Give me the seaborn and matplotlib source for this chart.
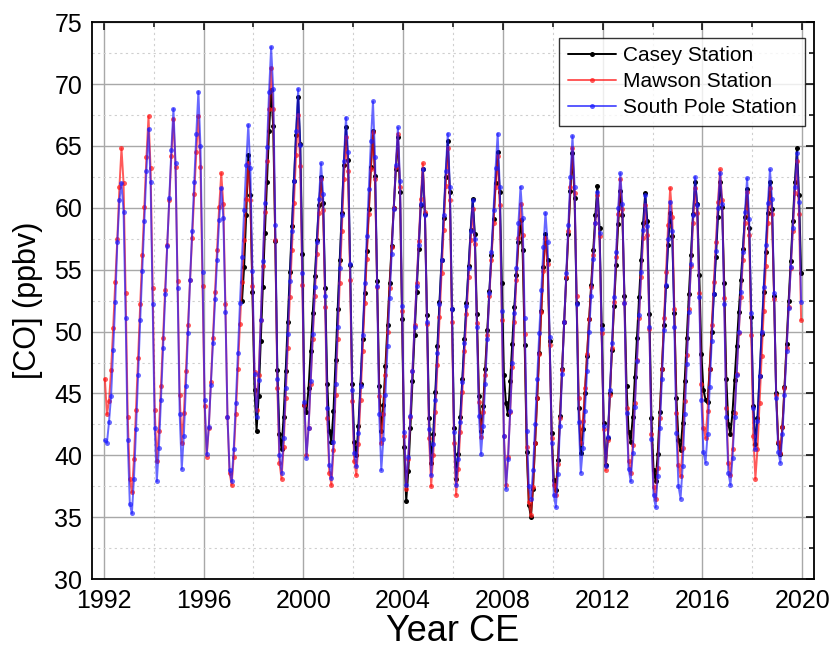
import numpy as np
import pandas as pd
import matplotlib
matplotlib.use("Agg")
import matplotlib.pyplot as plt
from matplotlib.ticker import MultipleLocator
import seaborn as sns

# monthly means, Jan 1992 .. Dec 2019 (one row per year)
years = list(range(1992, 2020))

south_pole = [
    41.2, 41.0, 42.7, 44.8, 48.5, 52.4, 57.2, 60.6, 62.0, 59.7, 51.1, 41.2,  # 1992
    36.1, 35.3, 38.1, 42.1, 46.5, 50.9, 54.9, 58.9, 63.0, 66.4, 62.1, 52.2,
    42.2, 37.9, 40.6, 44.5, 48.7, 53.0, 56.9, 60.8, 64.7, 68.0, 63.6, 53.5,
    43.3, 38.9, 41.6, 45.6, 49.9, 54.2, 58.1, 62.1, 66.0, 69.4, 65.0, 54.8,
    44.5, 40.1, 42.3, 45.7, 49.1, 52.6, 55.8, 59.0, 61.6, 59.2, 51.6, 43.1,  # 1996
    38.8, 37.9, 40.5, 44.2, 48.3, 52.3, 56.0, 59.8, 63.5, 66.7, 63.2, 54.9,
    46.6, 43.1, 46.1, 50.9, 55.7, 60.4, 64.9, 69.4, 73.0, 69.6, 58.6, 46.2,
    40.0, 38.6, 41.4, 45.4, 49.8, 54.1, 58.1, 62.2, 66.2, 69.6, 65.1, 54.7,
    44.3, 39.8, 42.2, 46.0, 49.8, 53.6, 57.2, 60.7, 63.6, 61.1, 52.9, 43.8,  # 2000
    39.2, 38.2, 41.1, 45.8, 50.4, 55.1, 59.4, 63.8, 67.3, 64.5, 55.5, 45.3,
    40.2, 39.1, 41.8, 45.6, 49.7, 53.9, 57.7, 61.5, 65.4, 68.6, 64.1, 53.7,
    43.3, 38.8, 41.3, 44.9, 48.8, 52.7, 56.3, 59.9, 63.5, 66.5, 62.2, 52.1,
    41.9, 37.6, 39.9, 43.2, 46.8, 50.4, 53.7, 57.0, 60.3, 63.1, 59.4, 50.8,  # 2004
    42.1, 38.4, 40.9, 44.5, 48.3, 52.2, 55.8, 59.4, 63.0, 66.0, 61.7, 51.8,
    41.9, 37.6, 39.7, 42.7, 45.9, 49.1, 52.1, 55.1, 58.1, 60.6, 57.5, 50.4,
    43.2, 40.1, 42.4, 45.8, 49.4, 53.1, 56.4, 59.8, 63.2, 66.0, 61.7, 51.7,
    41.6, 37.3, 39.7, 43.6, 47.5, 51.5, 55.1, 58.8, 61.7, 59.2, 51.1, 42.0,  # 2008
    37.5, 36.5, 38.8, 42.5, 46.2, 49.9, 53.4, 56.8, 59.6, 57.2, 49.6, 41.0,
    36.8, 35.8, 38.5, 42.4, 46.6, 50.8, 54.7, 58.6, 62.5, 65.8, 61.7, 52.2,
    42.7, 38.6, 40.6, 43.6, 46.8, 50.0, 52.9, 55.9, 58.8, 61.3, 58.0, 50.2,
    42.4, 39.1, 41.5, 45.3, 49.1, 52.8, 56.4, 60.0, 62.8, 60.3, 52.3, 43.4,  # 2012
    38.9, 37.9, 40.2, 43.9, 47.6, 51.3, 54.8, 58.2, 61.0, 58.5, 50.4, 41.3,
    36.8, 35.8, 38.3, 42.2, 46.2, 50.1, 53.8, 57.5, 60.5, 58.1, 50.4, 41.8,
    37.5, 36.5, 39.1, 43.3, 47.4, 51.6, 55.5, 59.4, 62.5, 60.2, 52.8, 44.5,
    40.3, 39.4, 41.7, 45.5, 49.2, 53.0, 56.5, 60.0, 62.8, 60.3, 52.2, 43.1,  # 2016
    38.6, 37.6, 39.8, 43.1, 46.5, 50.0, 53.2, 56.4, 59.7, 62.4, 59.1, 51.5,
    43.8, 40.5, 42.8, 46.4, 50.0, 53.6, 57.0, 60.4, 63.1, 60.7, 53.1, 44.6,
    40.3, 39.4, 41.7, 44.9, 48.4, 51.9, 55.2, 58.4, 61.7, 64.4, 60.5, 52.4,
]

mawson = [
    46.2, 43.3, 44.4, 46.9, 50.3, 54.0, 57.5, 61.7, 64.8, 62.0, 53.1, 43.1,  # 1992
    38.1, 37.0, 39.7, 43.7, 47.9, 52.2, 56.2, 60.1, 64.1, 67.4, 63.2, 53.5,
    43.7, 39.5, 42.0, 45.6, 49.5, 53.4, 57.0, 60.6, 64.2, 67.2, 63.3, 54.1,
    44.9, 41.0, 43.4, 46.8, 50.5, 54.2, 57.6, 61.1, 64.5, 67.4, 63.3, 53.7,
    44.0, 39.9, 42.2, 45.9, 49.5, 53.2, 56.6, 60.1, 62.8, 60.3, 52.2, 43.1,  # 1996
    38.6, 37.6, 39.9, 43.3, 47.0, 50.6, 54.0, 57.4, 60.7, 63.6, 60.6, 53.7,
    46.7, 43.7, 46.5, 50.9, 55.3, 59.7, 63.8, 68.0, 71.3, 68.0, 57.4, 45.4,
    39.4, 38.1, 40.7, 44.6, 48.7, 52.8, 56.6, 60.4, 64.3, 67.5, 63.4, 53.8,
    44.1, 40.0, 42.2, 45.8, 49.4, 52.9, 56.3, 59.6, 62.3, 59.8, 52.0, 43.0,  # 2000
    38.6, 37.6, 40.4, 44.9, 49.4, 53.9, 58.1, 62.3, 65.7, 63.0, 54.2, 44.4,
    39.5, 38.4, 40.9, 44.5, 48.4, 52.3, 55.9, 59.5, 63.1, 66.1, 62.3, 53.6,
    44.8, 41.0, 43.3, 46.5, 50.0, 53.5, 56.8, 60.0, 63.3, 66.0, 61.7, 51.7,
    41.6, 37.3, 39.7, 43.1, 46.8, 50.5, 53.9, 57.3, 60.7, 63.6, 59.7, 50.6,  # 2004
    41.4, 37.5, 40.0, 43.5, 47.3, 51.2, 54.7, 58.2, 61.8, 64.8, 60.6, 50.8,
    41.0, 36.8, 38.9, 41.9, 45.1, 48.4, 51.4, 54.4, 57.4, 59.9, 57.1, 50.7,
    44.3, 41.5, 43.5, 46.5, 49.7, 52.9, 55.8, 58.8, 61.7, 64.2, 60.2, 50.9,
    41.6, 37.6, 39.9, 43.5, 47.1, 50.8, 54.2, 57.6, 60.3, 57.8, 49.8, 40.7,  # 2008
    36.2, 35.2, 37.4, 41.0, 44.6, 48.2, 51.6, 54.9, 57.6, 55.5, 48.9, 41.4,
    37.6, 36.8, 39.3, 43.0, 46.9, 50.8, 54.4, 58.1, 61.7, 64.8, 61.2, 52.9,
    44.6, 41.0, 42.8, 45.4, 48.2, 51.0, 53.6, 56.2, 58.8, 61.0, 57.7, 49.9,
    42.1, 38.8, 41.2, 44.9, 48.7, 52.4, 56.0, 59.5, 62.3, 59.9, 52.3, 43.8,  # 2012
    39.5, 38.6, 40.8, 44.2, 47.7, 51.1, 54.4, 57.6, 60.2, 57.8, 50.2, 41.7,
    37.4, 36.5, 39.0, 43.0, 47.0, 51.1, 54.8, 58.6, 61.6, 59.3, 51.8, 43.4,
    39.2, 38.3, 40.6, 44.4, 48.1, 51.8, 55.3, 58.8, 61.6, 59.6, 53.1, 45.8,
    42.2, 41.4, 43.6, 47.0, 50.5, 54.0, 57.2, 60.5, 63.1, 60.6, 52.7, 43.8,  # 2016
    39.4, 38.4, 40.5, 43.4, 46.6, 49.9, 52.8, 55.8, 58.8, 61.3, 57.8, 49.7,
    41.6, 38.1, 40.5, 44.2, 48.0, 51.7, 55.3, 58.8, 61.6, 59.5, 52.6, 44.9,
    41.1, 40.2, 42.3, 45.4, 48.7, 52.0, 55.1, 58.1, 61.2, 63.8, 59.5, 50.9,
]

# Casey record begins July 1997
casey_start = 1997.5
casey = [
    52.5, 55.2, 59.4, 64.3, 61.0, 53.2,  # Jul-Dec 1997
    45.3, 42.0, 44.8, 49.2, 53.6, 58.0, 62.1, 66.2, 69.5, 66.6, 57.3, 46.9,
    41.7, 40.5, 43.1, 46.8, 50.8, 54.8, 58.5, 62.2, 65.9, 69.0, 65.2, 56.3,
    44.1, 43.5, 45.4, 48.4, 51.5, 54.5, 57.4, 60.2, 62.5, 60.4, 53.5, 45.8,  # 2000
    42.0, 41.1, 43.6, 47.7, 51.8, 55.8, 59.6, 63.5, 66.5, 63.9, 55.4, 45.8,
    41.1, 40.0, 42.4, 45.8, 49.4, 53.1, 56.5, 59.9, 63.3, 66.2, 62.6, 54.1,
    45.6, 42.0, 44.1, 47.2, 50.5, 53.9, 56.9, 60.0, 63.1, 65.7, 61.3, 51.0,
    40.7, 36.3, 38.7, 42.2, 46.0, 49.7, 53.2, 56.7, 60.2, 63.1, 59.5, 51.3,  # 2004
    43.0, 39.4, 41.7, 45.1, 48.8, 52.4, 55.8, 59.2, 62.5, 65.4, 61.3, 51.8,
    42.2, 38.1, 40.1, 43.1, 46.2, 49.4, 52.3, 55.3, 58.2, 60.7, 57.9, 51.4,
    44.8, 42.0, 44.0, 47.0, 50.1, 53.3, 56.2, 59.1, 62.0, 64.5, 61.3, 53.9,
    46.5, 44.2, 43.3, 46.0, 49.0, 52.0, 54.6, 57.2, 59.0, 56.6, 48.9, 40.3,  # 2008
    36.0, 35.0, 37.3, 41.0, 44.6, 48.3, 51.7, 55.2, 57.9, 55.8, 49.2, 41.8,
    38.0, 37.2, 39.6, 43.2, 47.0, 50.8, 54.3, 57.9, 61.4, 64.4, 60.8, 52.3,
    43.8, 40.2, 42.1, 45.0, 48.0, 51.0, 53.8, 56.6, 59.4, 61.8, 58.4, 50.5,
    42.6, 39.2, 41.4, 45.0, 48.5, 52.1, 55.4, 58.7, 61.4, 59.4, 52.9, 45.6,  # 2012
    41.9, 41.1, 43.1, 46.3, 49.5, 52.8, 55.8, 58.8, 61.2, 58.9, 51.4, 43.0,
    38.8, 37.9, 40.1, 43.5, 47.0, 50.5, 53.7, 57.0, 59.6, 57.7, 51.5, 44.6,
    41.2, 40.4, 42.6, 46.0, 49.5, 53.0, 56.2, 59.5, 62.1, 60.3, 54.6, 48.2,
    45.3, 44.5, 44.3, 47.0, 50.0, 53.0, 56.0, 59.3, 62.1, 60.1, 53.9, 46.2,  # 2016
    42.5, 41.7, 43.5, 46.1, 48.8, 51.6, 54.2, 56.7, 59.3, 61.5, 58.4, 51.2,
    44.0, 40.9, 43.0, 46.4, 49.8, 53.2, 56.4, 59.6, 62.1, 59.9, 52.9, 45.0,
    41.0, 40.1, 42.3, 45.5, 49.0, 52.5, 55.7, 58.9, 62.1, 64.8, 61.0, 54.7,
]

# decimal year at mid-month
t = np.array([y + (m + 0.5) / 12 for y in years for m in range(12)])
t_casey = t[t > casey_start]

sns.set_style("white")
plt.rcParams["font.family"] = ["Liberation Sans", "DejaVu Sans"]
plt.rcParams["text.color"] = "black"
plt.rcParams["axes.labelcolor"] = "black"

fig, ax = plt.subplots(figsize=(8.35, 6.55), dpi=100)
fig.subplots_adjust(left=0.110, right=0.975, bottom=0.116, top=0.966)

common = dict(marker="o", markersize=3.6, markeredgewidth=0, linewidth=1.4,
              estimator=None, sort=False, ax=ax)
sns.lineplot(x=t_casey, y=casey, color="black", label="Casey Station", **common)
sns.lineplot(x=t, y=mawson, color="#ff1a1a", alpha=0.72, label="Mawson Station", **common)
sns.lineplot(x=t, y=south_pole, color="#1a1aff", alpha=0.66, label="South Pole Station", **common)

ax.set_xlim(1991.52, 2020.48)
ax.set_ylim(30, 75)
ax.xaxis.set_major_locator(MultipleLocator(4))
ax.xaxis.set_minor_locator(MultipleLocator(2))
ax.yaxis.set_major_locator(MultipleLocator(5))
ax.yaxis.set_minor_locator(MultipleLocator(2.5))

ax.grid(which="major", color="#a8a8a8", linewidth=1.0, linestyle="-")
ax.grid(which="minor", color="#cfcfcf", linewidth=0.8, linestyle=(0, (2, 3)))
ax.set_axisbelow(True)

ax.tick_params(which="both", direction="in", top=True, right=True, width=1.1,
               colors="black", labelsize=18, pad=7)
ax.tick_params(which="major", length=6)
ax.tick_params(which="minor", length=3.5)
for sp in ax.spines.values():
    sp.set_linewidth(1.3)
    sp.set_color("black")

ax.set_xlabel("Year CE", fontsize=26, labelpad=1, color="black")
ax.set_ylabel("[CO] (ppbv)", fontsize=22, labelpad=8, color="black")

leg = ax.legend(loc="upper right", bbox_to_anchor=(0.9875, 0.972), borderaxespad=0,
                fontsize=15, frameon=True, fancybox=False, edgecolor="black",
                handlelength=2.3, labelspacing=0.34, borderpad=0.4, handletextpad=0.35)
leg.get_frame().set_linewidth(1.0)
for txt in leg.get_texts():
    txt.set_color("black")
for h in leg.legend_handles:
    h.set_alpha(1.0 if h.get_color() == "black" else 0.72)

fig.savefig("out.png", dpi=100)
